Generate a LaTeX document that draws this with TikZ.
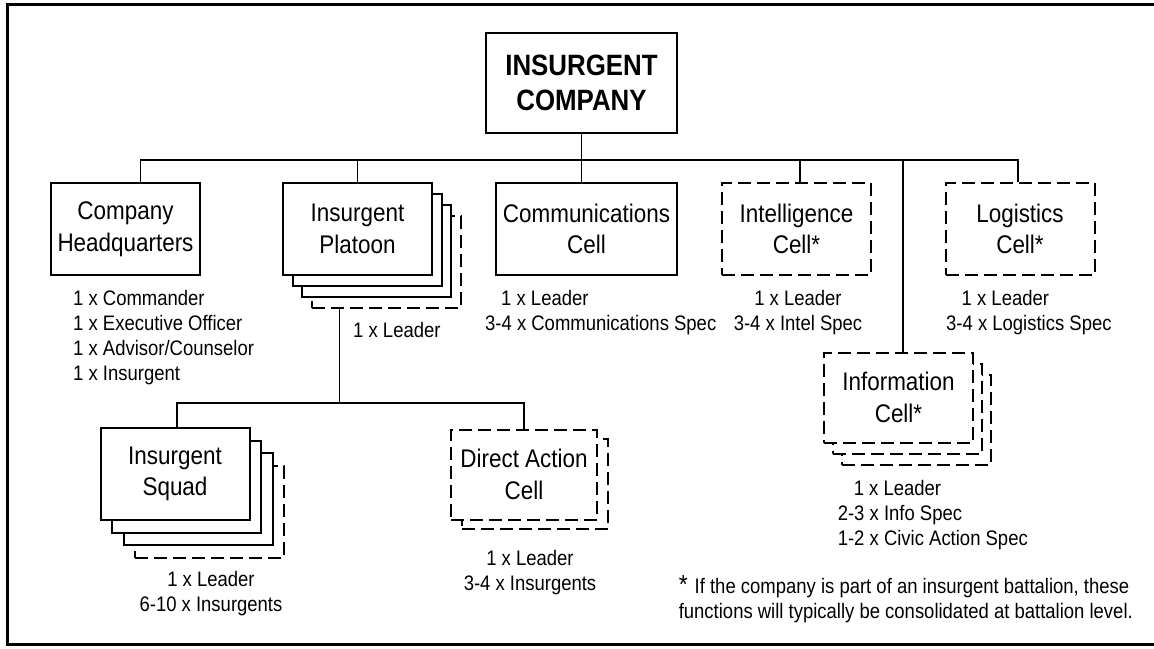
\documentclass[tikz,border=0pt]{standalone}
\usepackage{fontspec}
\setmainfont[FakeStretch=0.88]{Liberation Sans}
\begin{document}
\begin{tikzpicture}[x=1pt,y=-1pt,
  unit/.style={draw,fill=white,line width=2pt,inner sep=0pt,minimum width=149pt,minimum height=92pt,align=center,font=\fontsize{25.5}{31.7}\selectfont},
  ghost/.style={unit,dash pattern=on 13pt off 6pt},
  staff/.style={inner sep=0pt,font=\fontsize{21}{25}\selectfont},
  link/.style={draw,line width=1.7pt}]
\useasboundingbox (0,0) rectangle (1154,648);
\path[draw,line width=3.5pt] (1154,4.5) -- (7.5,4.5) -- (7.5,644.5) -- (1154,644.5);

\node[unit,minimum width=191pt,minimum height=100pt,font=\fontsize{29.4}{35}\selectfont\bfseries] (co) at (581.5,83) {INSURGENT\\COMPANY};

% first row
\node[unit] (hq) at (125.5,229) {Company\\Headquarters};
\node[ghost] (plt4) at (386,262) {};
\node[unit] (plt3) at (376.5,251) {};
\node[unit] (plt2) at (367,240) {};
\node[unit] (plt) at (357.5,229) {Insurgent\\Platoon};
\node[unit,minimum width=181pt] (comm) at (586.5,229) {Communications\\Cell};
\node[ghost] (intel) at (796.5,229) {Intelligence\\Cell*};
\node[ghost] (log) at (1020,229) {Logistics\\Cell*};
\node[ghost,minimum height=90pt] (info3) at (916,419.5) {};
\node[ghost,minimum height=90pt] (info2) at (907,408.5) {};
\node[ghost,minimum height=90pt] (info) at (898.5,397.7) {Information\\Cell*};

% under the platoon
\node[ghost] (sq4) at (209,512) {};
\node[unit] (sq3) at (198,499) {};
\node[unit] (sq2) at (186.5,486.5) {};
\node[unit] (sq) at (175,474) {Insurgent\\Squad};
\node[ghost,minimum width=146pt,minimum height=90pt] (dac2) at (535,484) {};
\node[ghost,minimum width=146pt,minimum height=90pt] (dac) at (524,474.5) {Direct Action\\Cell};

% staff lists
\node[staff,anchor=north west,align=left] (hqs) at (73,290) {1 x Commander\\1 x Executive Officer\\1 x Advisor/Counselor\\1 x Insurgent};
\node[staff,anchor=north west] (plts) at (353,322) {1 x Leader};
\node[staff,anchor=north west,align=left] (comms) at (485,290) {\hspace*{16pt}1 x Leader\\3-4 x Communications Spec};
\node[staff,anchor=north,align=center] (intels) at (798,290) {1 x Leader\\3-4 x Intel Spec};
\node[staff,anchor=north west,align=left] (logs) at (946,290) {\hspace*{15.5pt}1 x Leader\\3-4 x Logistics Spec};
\node[staff,anchor=north west,align=left] (infos) at (837.6,480) {\hspace*{16pt}1 x Leader\\2-3 x Info Spec\\1-2 x Civic Action Spec};
\node[staff,anchor=north,align=center] (sqs) at (211,571) {1 x Leader\\6-10 x Insurgents};
\node[staff,anchor=north,align=center] (dacs) at (530,550) {1 x Leader\\3-4 x Insurgents};
\node[staff,anchor=north west,align=left] (note) at (678.6,575) {{\fontsize{26}{26}\selectfont*}\hspace{7pt}If the company is part of an insurgent battalion, these\\functions will typically be consolidated at battalion level.};

% links
\coordinate (bus) at (0,160);
\path[link] (co.south) -- (co.south |- bus) -| ([xshift=15pt]hq.north);
\path[link] (co.south |- bus) -| (plt.north);
\path[link] (co.south) -- (co.south |- comm.north);
\path[link] (co.south |- bus) -| ([xshift=3.5pt]intel.north);
\path[link] (co.south |- bus) -| ([xshift=4.5pt]info.north);
\path[link] (co.south |- bus) -| ([xshift=-2pt]log.north);

\coordinate (pbus) at (339.5,403);
\path[link] (plt4.south -| pbus) -- (pbus) -| ([xshift=2pt]sq.north);
\path[link] (pbus) -| (dac.north);
\end{tikzpicture}
\end{document}
